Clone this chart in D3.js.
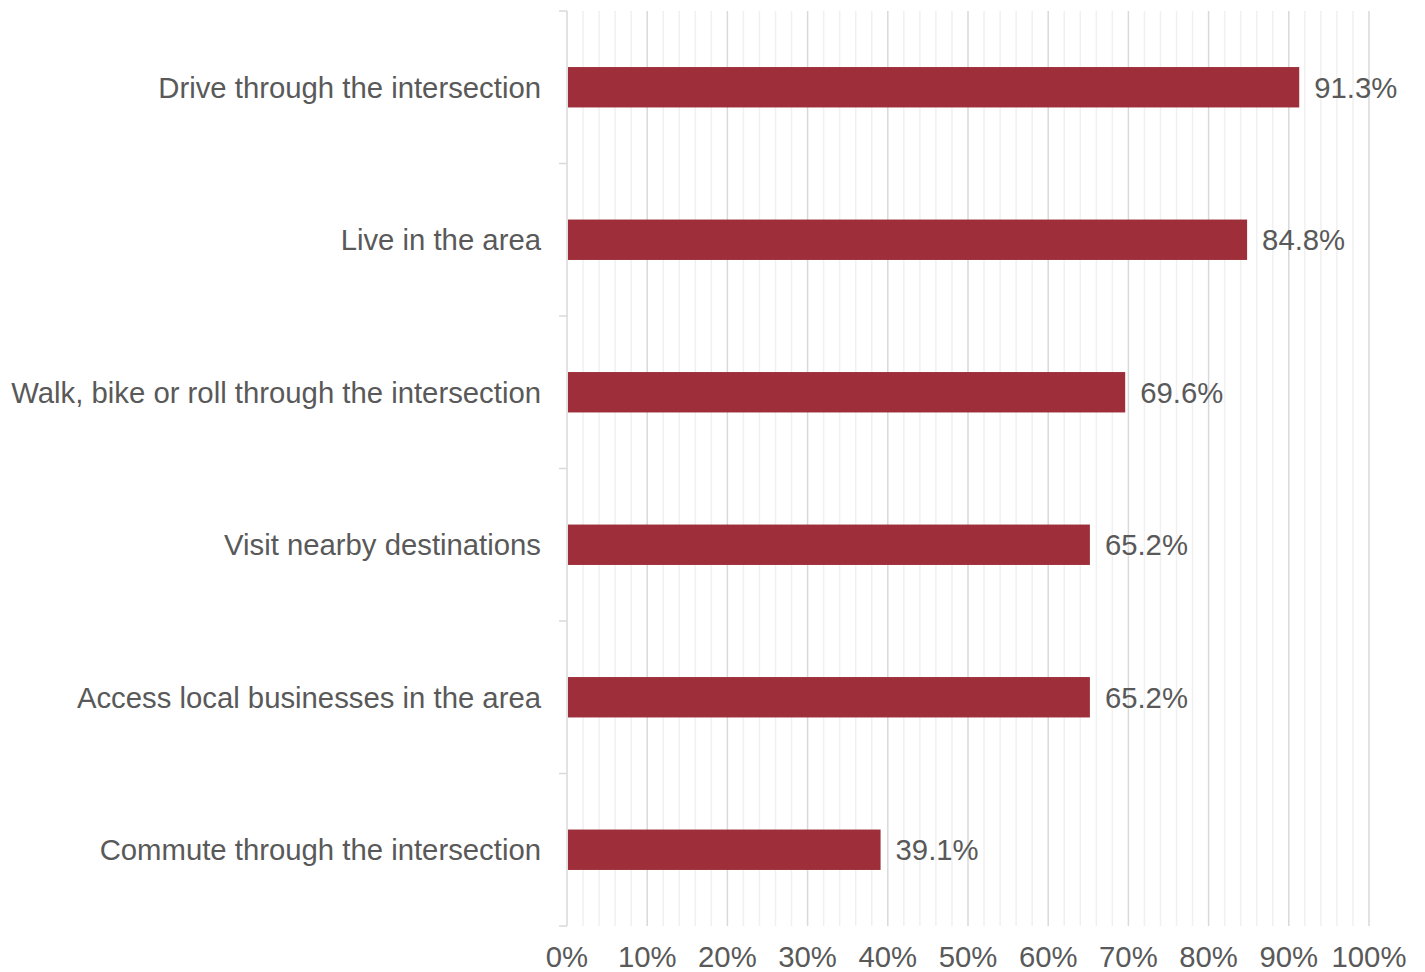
<!DOCTYPE html>
<html>
<head>
<meta charset="utf-8">
<script src="https://cdn.jsdelivr.net/npm/d3@7"></script>
<style>
  html, body { margin: 0; padding: 0; background: #fff; }
  svg { display: block; font-family: Arial, "Liberation Sans", sans-serif; }
</style>
</head>
<body>
<div id="chart"></div>
<script>
const categories = [
  'Drive through the intersection',
  'Live in the area',
  'Walk, bike or roll through the intersection',
  'Visit nearby destinations',
  'Access local businesses in the area',
  'Commute through the intersection'
];
const values = [91.3, 84.8, 69.6, 65.2, 65.2, 39.1];
const tickValues = [0, 10, 20, 30, 40, 50, 60, 70, 80, 90, 100];

const width = 1425, height = 972;
const margin = { top: 11, right: 56, bottom: 46, left: 567 };
const fontSize = 29.3;

const svg = d3.select('#chart')
  .append('svg')
  .attr('width', width)
  .attr('height', height);

const x = d3.scaleLinear()
  .domain([0, 100])
  .range([margin.left, width - margin.right]);

const y = d3.scaleBand()
  .domain(categories)
  .range([margin.top, height - margin.bottom])
  .paddingInner(0.735)
  .paddingOuter(0.3675);

const plotTop = margin.top, plotBottom = height - margin.bottom;

// minor gridlines every 2%
svg.append('g')
  .selectAll('line')
  .data(d3.range(2, 101, 2).filter(v => v % 10 !== 0))
  .join('line')
  .attr('x1', d => x(d)).attr('x2', d => x(d))
  .attr('y1', plotTop).attr('y2', plotBottom)
  .attr('stroke', '#f0f0f0')
  .attr('stroke-width', 1.5);

// major gridlines
svg.append('g')
  .selectAll('line')
  .data(tickValues.slice(1))
  .join('line')
  .attr('x1', d => x(d)).attr('x2', d => x(d))
  .attr('y1', plotTop).attr('y2', plotBottom)
  .attr('stroke', '#d9d9d9')
  .attr('stroke-width', 1.5);

// category axis with boundary ticks
const boundaries = d3.range(categories.length + 1).map(i => plotTop + i * (plotBottom - plotTop) / categories.length);
svg.append('line')
  .attr('x1', x(0)).attr('x2', x(0))
  .attr('y1', plotTop).attr('y2', plotBottom)
  .attr('stroke', '#d9d9d9')
  .attr('stroke-width', 1.5);
svg.append('g')
  .selectAll('line')
  .data(boundaries)
  .join('line')
  .attr('x1', x(0) - 8).attr('x2', x(0))
  .attr('y1', d => d).attr('y2', d => d)
  .attr('stroke', '#d9d9d9')
  .attr('stroke-width', 1.5);

// bars
svg.append('g')
  .selectAll('rect')
  .data(values)
  .join('rect')
  .attr('x', x(0) + 1)
  .attr('y', (d, i) => y(categories[i]))
  .attr('width', d => x(d) - x(0) - 1)
  .attr('height', y.bandwidth())
  .attr('fill', '#9e2f3a');

// value labels
svg.append('g')
  .selectAll('text')
  .data(values)
  .join('text')
  .attr('x', d => x(d) + 15)
  .attr('y', (d, i) => y(categories[i]) + y.bandwidth() / 2)
  .attr('dy', '0.35em')
  .attr('font-size', fontSize)
  .attr('fill', '#595959')
  .text(d => d.toFixed(1) + '%');

// category labels
svg.append('g')
  .selectAll('text')
  .data(categories)
  .join('text')
  .attr('x', x(0) - 26)
  .attr('y', d => y(d) + y.bandwidth() / 2)
  .attr('dy', '0.35em')
  .attr('text-anchor', 'end')
  .attr('font-size', fontSize)
  .attr('fill', '#595959')
  .text(d => d);

// x tick labels
svg.append('g')
  .selectAll('text')
  .data(tickValues)
  .join('text')
  .attr('x', d => x(d))
  .attr('y', 967)
  .attr('text-anchor', 'middle')
  .attr('font-size', fontSize)
  .attr('fill', '#595959')
  .text(d => d + '%');
</script>
</body>
</html>
